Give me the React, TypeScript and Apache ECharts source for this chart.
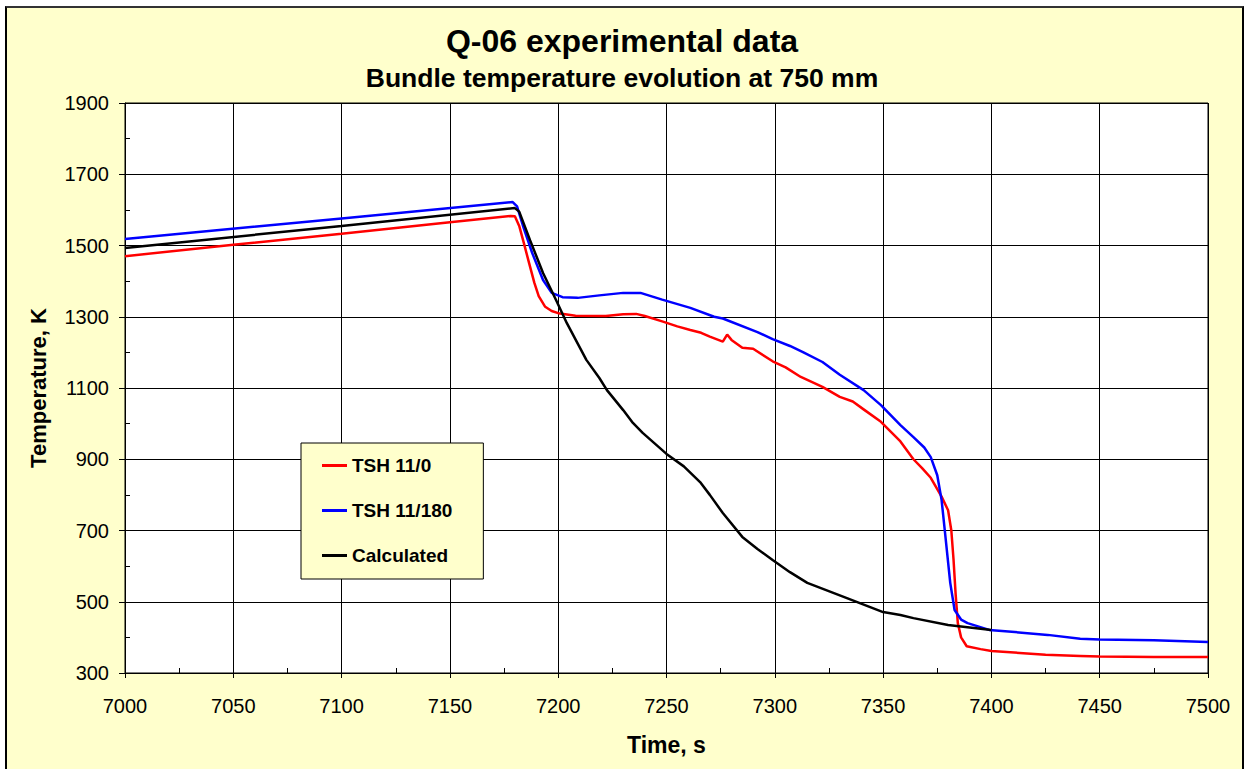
import React, { useEffect, useRef } from "react";
import * as echarts from "echarts";

const seriesNames = ["TSH 11/0", "TSH 11/180", "Calculated"];
const seriesColors = ["#ff0000", "#0000ff", "#000000"];

const redData: [number, number][] = [
  [7000, 1470], [7050, 1502], [7100, 1533], [7150, 1565], [7178, 1583], [7180, 1582],
  [7182, 1555], [7184, 1510], [7186.6, 1450], [7189, 1395], [7191, 1358], [7194, 1328],
  [7197, 1316], [7200, 1310], [7208, 1303], [7222, 1302], [7230, 1307], [7236, 1308],
  [7240, 1302], [7248, 1287], [7255, 1273], [7261, 1263], [7266, 1255], [7270, 1244],
  [7276, 1230], [7278, 1250], [7280, 1235], [7285, 1213], [7290, 1210], [7299, 1175],
  [7305, 1158], [7312, 1131], [7322, 1103], [7330, 1075], [7336, 1062], [7341, 1040],
  [7349, 1005], [7358, 950], [7364, 900], [7368, 875], [7372, 848], [7377, 795],
  [7380, 757], [7381.5, 700], [7382.5, 620], [7383.5, 520], [7384.5, 440], [7386, 400],
  [7388.6, 375], [7395, 367], [7400, 362], [7425, 351], [7441, 348], [7450, 346],
  [7475, 345], [7500, 345],
];

const blueData: [number, number][] = [
  [7000, 1518], [7100, 1576], [7179, 1622], [7181, 1610], [7184, 1550], [7188, 1479],
  [7193, 1403], [7197, 1367], [7202, 1355], [7209, 1353], [7219, 1360], [7230, 1367],
  [7238, 1367], [7248, 1348], [7261, 1325], [7272, 1300], [7276, 1295], [7292, 1257],
  [7299, 1237], [7307, 1218], [7313, 1201], [7322, 1173], [7330, 1137], [7341, 1094],
  [7349, 1052], [7358, 996], [7364, 962], [7369, 933], [7372, 906], [7375, 855],
  [7377, 786], [7378.6, 693], [7381, 553], [7383, 477], [7386, 450], [7389, 440],
  [7399, 421], [7426, 407], [7441, 396], [7450, 394], [7475, 392], [7500, 387],
];

const blackData: [number, number][] = [
  [7000, 1493], [7100, 1555], [7180, 1605], [7182, 1595], [7187, 1515], [7193, 1423],
  [7199, 1347], [7204, 1282], [7213, 1179], [7219, 1128], [7222.5, 1094], [7230, 1038],
  [7234.5, 1002], [7239, 974], [7250, 915], [7258, 880], [7265.5, 836], [7270, 800],
  [7276, 749], [7285, 682], [7292, 648], [7299, 617], [7307, 583], [7315, 553],
  [7333, 511], [7350, 471], [7358, 463], [7364, 454], [7380, 435], [7400, 421],
];

const allData = [redData, blueData, blackData];

const FONT = "'Liberation Sans', Arial, sans-serif";

export default function App() {
  const ref = useRef<HTMLDivElement>(null);

  useEffect(() => {
    document.body.style.margin = "0";
    if (!ref.current) return;
    const chart = echarts.init(ref.current, null, { renderer: "svg" });
    const option: any = {
      animation: false,
      backgroundColor: "transparent",
      title: [
        {
          text: "Q-06 experimental data",
          left: "center",
          top: 20,
          textStyle: { fontFamily: FONT, fontSize: 32, fontWeight: "bold", color: "#000" },
        },
        {
          text: "Bundle temperature evolution at 750 mm",
          left: "center",
          top: 59,
          textStyle: { fontFamily: FONT, fontSize: 26.5, fontWeight: "bold", color: "#000" },
        },
      ],
      legend: {
        orient: "vertical",
        left: 301,
        top: 443,
        padding: [13, 31, 14, 21],
        itemGap: 26,
        itemWidth: 25,
        itemHeight: 3,
        icon: "rect",
        backgroundColor: "#ffffcc",
        borderColor: "#000",
        borderWidth: 1,
        textStyle: { fontFamily: FONT, fontSize: 19, fontWeight: "bold", color: "#000" },
        data: seriesNames,
      },
      grid: {
        left: 125,
        top: 103,
        right: 36,
        bottom: 96,
        show: true,
        backgroundColor: "#ffffff",
        borderColor: "#000",
        borderWidth: 1,
      },
      xAxis: [
        {
          type: "value",
          min: 7000,
          max: 7500,
          interval: 50,
          position: "bottom",
          name: "Time, s",
          nameLocation: "middle",
          nameGap: 60,
          nameTextStyle: { fontFamily: FONT, fontSize: 23, fontWeight: "bold", color: "#000" },
          axisLine: { lineStyle: { color: "#000", width: 1 } },
          axisTick: { show: true, inside: false, length: 5, lineStyle: { color: "#000" } },
          axisLabel: { fontFamily: FONT, fontSize: 20, color: "#000", margin: 23, formatter: (v: number) => String(v) },
          splitLine: { show: true, lineStyle: { color: "#000", width: 1 } },
        },
        {
          type: "value",
          min: 7000,
          max: 7500,
          interval: 25,
          position: "bottom",
          axisLine: { show: false },
          axisTick: { show: true, inside: true, length: 5, lineStyle: { color: "#000" } },
          axisLabel: { show: false },
          splitLine: { show: false },
        },
      ],
      yAxis: [
        {
          type: "value",
          min: 300,
          max: 1900,
          interval: 200,
          position: "left",
          name: "Temperature, K",
          nameLocation: "middle",
          nameGap: 76,
          nameRotate: 90,
          nameTextStyle: { fontFamily: FONT, fontSize: 22, fontWeight: "bold", color: "#000" },
          axisLine: { show: true, lineStyle: { color: "#000", width: 1 } },
          axisTick: { show: true, inside: false, length: 6, lineStyle: { color: "#000" } },
          axisLabel: { fontFamily: FONT, fontSize: 20, color: "#000", margin: 16, formatter: (v: number) => String(v) },
          splitLine: { show: true, lineStyle: { color: "#000", width: 1 } },
        },
        {
          type: "value",
          min: 300,
          max: 1900,
          interval: 100,
          position: "left",
          axisLine: { show: false },
          axisTick: { show: true, inside: true, length: 5, lineStyle: { color: "#000" } },
          axisLabel: { show: false },
          splitLine: { show: false },
        },
      ],
      series: allData.map((d, i) => ({
        name: seriesNames[i],
        type: "line",
        xAxisIndex: 0,
        yAxisIndex: 0,
        data: d,
        showSymbol: false,
        symbol: "none",
        lineStyle: { color: seriesColors[i], width: 2.5 },
        itemStyle: { color: seriesColors[i] },
        z: 2 + i,
      })),
    };
    chart.setOption(option);
    return () => chart.dispose();
  }, []);

  return (
    <div style={{ position: "fixed", left: 0, top: 0, width: 1244, height: 769, background: "#fff", overflow: "hidden" }}>
      <div
        style={{
          position: "absolute",
          left: 5,
          top: 6,
          width: 1235,
          height: 780,
          background: "#ffffcc",
          borderTop: "2px solid #333",
          borderLeft: "2px solid #000",
          borderRight: "2px solid #000",
        }}
      />
      <div ref={ref} style={{ position: "absolute", left: 0, top: 0, width: 1244, height: 769 }} />
    </div>
  );
}
